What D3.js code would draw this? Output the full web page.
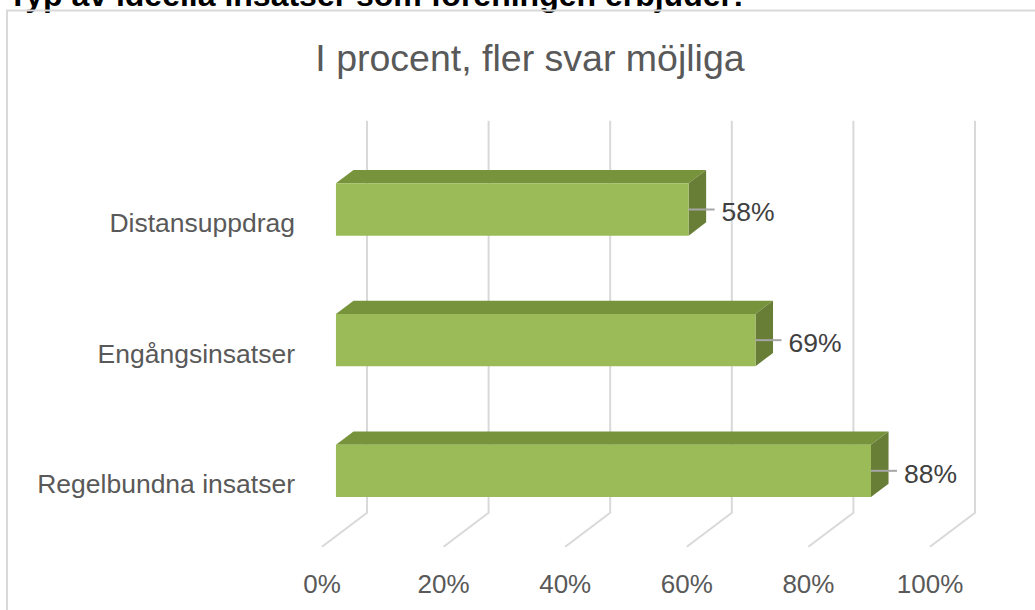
<!DOCTYPE html>
<html>
<head>
<meta charset="utf-8">
<script src="https://cdn.jsdelivr.net/npm/d3@7"></script>
<style>
  body { margin: 0; background: #fff; }
  text { font-family: "Liberation Sans", Arial, sans-serif; }
</style>
</head>
<body>
<div id="chart"></div>
<script>
// data
const categories = ["Distansuppdrag", "Engångsinsatser", "Regelbundna insatser"];
const values = [58, 69, 88];
const ticks = [0, 20, 40, 60, 80, 100];

const width = 1035, height = 610;

const svg = d3.select("#chart").append("svg")
    .attr("width", width)
    .attr("height", height);

// heading above the chart box (cut off at the top, as in the original)
svg.append("text")
    .attr("x", 8).attr("y", 6)
    .style("font-size", "32px").style("font-weight", "bold")
    .attr("fill", "#000")
    .text("Typ av ideella insatser som föreningen erbjuder:");

// chart frame
svg.append("rect")
    .attr("x", 7).attr("y", 10.5)
    .attr("width", 1100).attr("height", 700)
    .attr("fill", "none")
    .attr("stroke", "#d9d9d9").attr("stroke-width", 2);

svg.append("text")
    .attr("x", 530).attr("y", 71)
    .attr("text-anchor", "middle")
    .style("font-size", "37.5px")
    .attr("fill", "#595959")
    .text("I procent, fler svar möjliga");

// front plane scales, depth is added by p()
const x = d3.scaleLinear().domain([0, 100]).range([322, 930]);
const y = d3.scaleBand().domain(categories).range([154.7, 546.7])
    .paddingInner(0.6).paddingOuter(0.3);

const depthX = 45, depthY = -34;
const p = (px, py, z) => [px + depthX * z, py + depthY * z];
const zFront = 0.31, zBack = 0.7;

// back wall gridlines + floor lines
const grid = svg.append("g");
ticks.forEach(t => {
    const top = p(x(t), y.range()[0], 1);
    const bot = p(x(t), y.range()[1], 1);
    const front = p(x(t), y.range()[1], 0);
    grid.append("path")
        .attr("d", d3.line()([top, bot, front]))
        .attr("fill", "none")
        .attr("stroke", "#d9d9d9")
        .attr("stroke-width", 2);
});

// axis tick labels at the front edge of the floor
svg.append("g").selectAll("text")
    .data(ticks)
    .join("text")
    .attr("x", d => x(d))
    .attr("y", 593)
    .attr("text-anchor", "middle")
    .style("font-size", "26px")
    .attr("fill", "#595959")
    .text(d => d + "%");

// category labels
svg.append("g").selectAll("text")
    .data(categories)
    .join("text")
    .attr("x", 295)
    .attr("y", d => y(d) + y.bandwidth() / 2 + 12)
    .attr("text-anchor", "end")
    .style("font-size", "26.5px")
    .attr("fill", "#595959")
    .text(d => d);

// 3D bars
const bars = svg.append("g").selectAll("g")
    .data(categories.map((c, i) => ({ c, v: values[i] })))
    .join("g");

const poly = pts => "M" + pts.map(q => q.join(",")).join("L") + "Z";

bars.append("path") // top face
    .attr("d", d => {
        const y0 = y(d.c);
        return poly([p(x(0), y0, zFront), p(x(d.v), y0, zFront), p(x(d.v), y0, zBack), p(x(0), y0, zBack)]);
    })
    .attr("fill", "#77933c");

bars.append("path") // side face
    .attr("d", d => {
        const y0 = y(d.c), y1 = y0 + y.bandwidth();
        return poly([p(x(d.v), y0, zFront), p(x(d.v), y0, zBack), p(x(d.v), y1, zBack), p(x(d.v), y1, zFront)]);
    })
    .attr("fill", "#687e37");

bars.append("path") // front face
    .attr("d", d => {
        const y0 = y(d.c), y1 = y0 + y.bandwidth();
        return poly([p(x(0), y0, zFront), p(x(d.v), y0, zFront), p(x(d.v), y1, zFront), p(x(0), y1, zFront)]);
    })
    .attr("fill", "#9bbb59");

// leader lines and value labels
bars.append("line")
    .attr("x1", d => p(x(d.v), 0, zFront)[0])
    .attr("x2", d => p(x(d.v), 0, zFront)[0] + 26)
    .attr("y1", d => p(0, y(d.c) + y.bandwidth() / 2, zFront)[1])
    .attr("y2", d => p(0, y(d.c) + y.bandwidth() / 2, zFront)[1])
    .attr("stroke", "#a6a6a6")
    .attr("stroke-width", 2);

bars.append("text")
    .attr("x", d => p(x(d.v), 0, zFront)[0] + 33)
    .attr("y", d => p(0, y(d.c) + y.bandwidth() / 2, zFront)[1] + 12)
    .style("font-size", "26.5px")
    .attr("fill", "#404040")
    .text(d => d.v + "%");
</script>
</body>
</html>
